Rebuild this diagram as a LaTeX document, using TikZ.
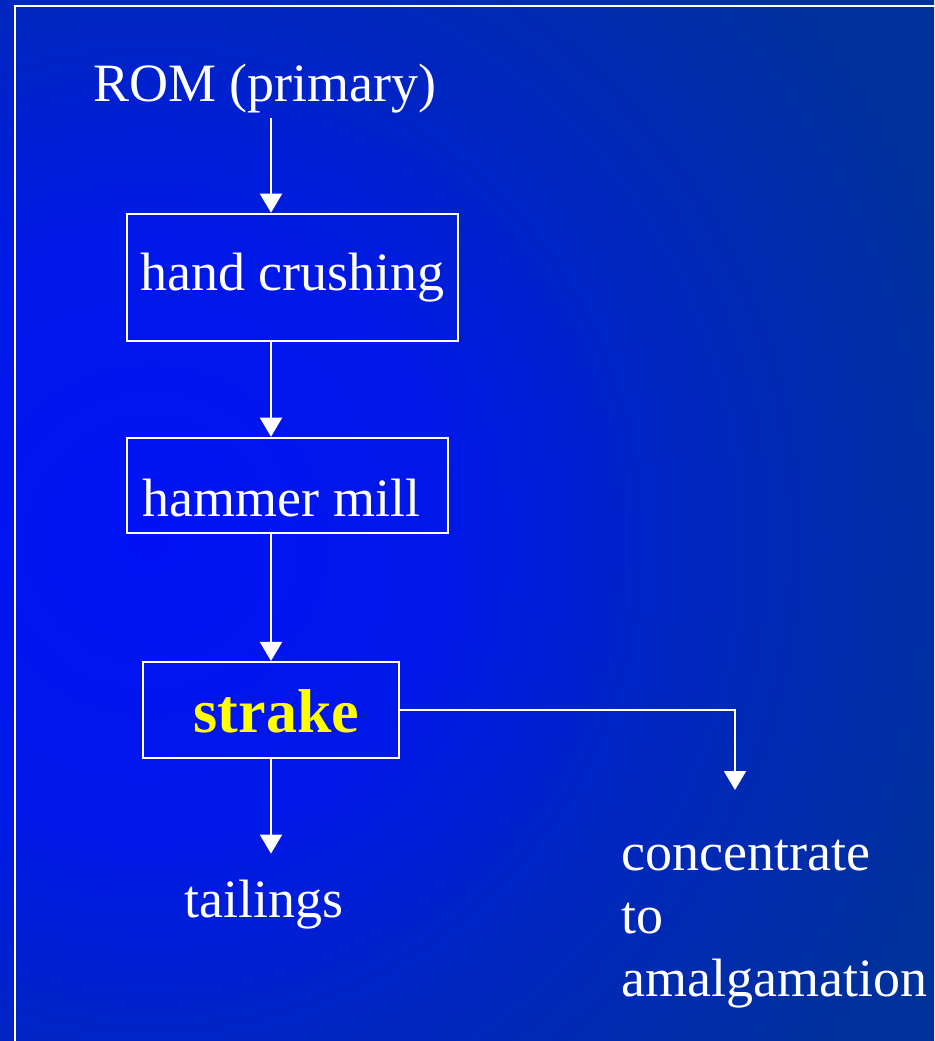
\documentclass[tikz,border=0pt]{standalone}
\usepackage{fontspec}
\setmainfont{Liberation Serif}
\usetikzlibrary{arrows.meta}
\definecolor{bgA}{RGB}{0,18,245}
\definecolor{bgB}{RGB}{0,24,232}
\definecolor{bgC}{RGB}{0,38,192}
\definecolor{bgD}{RGB}{0,48,155}
\definecolor{strakeyellow}{RGB}{255,255,0}
\pgfdeclareradialshading{bgshade}{\pgfpoint{0bp}{0bp}}{color(0bp)=(bgA); color(4.4bp)=(bgB); color(7.9bp)=(bgC); color(12.5bp)=(bgD); color(50bp)=(bgD)}
\begin{document}
\begin{tikzpicture}[x=1pt,y=-1pt,
  box/.style={draw=white, line width=2pt, inner sep=0pt},
  lbl/.style={text=white, inner sep=0pt, font=\fontsize{54}{63}\selectfont},
  arr/.style={draw=white, line width=2pt, -{Triangle[width=22pt,length=19pt]}}]
\useasboundingbox (0,0) rectangle (934,1041);
\begin{scope}
\clip (0,0) rectangle (934,1041);
\shade[shading=bgshade] (150,540) circle (1700);
\end{scope}
\draw[white, line width=2.2pt] (15,1050) -- (15,6) -- (945,6);
% boxes
\node[box, minimum width=331pt, minimum height=127.6pt] (hc) at (292.2,277.5) {};
\node[lbl, anchor=base] (hcT) at (292.5,290.7) {hand crushing};
\node[box, minimum width=321pt, minimum height=95.6pt] (hm) at (287.2,485.5) {};
\node[lbl, anchor=base] (hmT) at (281.7,516.7) {hammer mill};
\node[box, minimum width=256.6pt, minimum height=95.7pt] (st) at (271,709.8) {};
\node[lbl, anchor=base, text=strakeyellow, font=\fontsize{62}{70}\selectfont\bfseries] (stT) at (276.5,732.7) {strake};
% free labels
\node[lbl, anchor=base] (rom) at (264.8,101) {ROM (primary)};
\node[lbl, anchor=base] (tail) at (264.3,917.3) {tailings};
\node[lbl, anchor=base west, align=left] (conc) at (621,996) {concentrate\\to\\amalgamation};
% connectors
\coordinate (ax) at (271,0);
\coordinate (cc) at (735,790);
\draw[arr, shorten <=5pt] (rom.south -| ax) -- (hc.north -| ax);
\draw[arr] (hc.south -| ax) -- (hm.north -| ax);
\draw[arr] (hm.south -| ax) -- (st.north -| ax);
\draw[arr, shorten >=26pt] (st.south) -- (tail.north -| ax);
\draw[arr] (st.east) -| (cc);
\end{tikzpicture}
\end{document}
